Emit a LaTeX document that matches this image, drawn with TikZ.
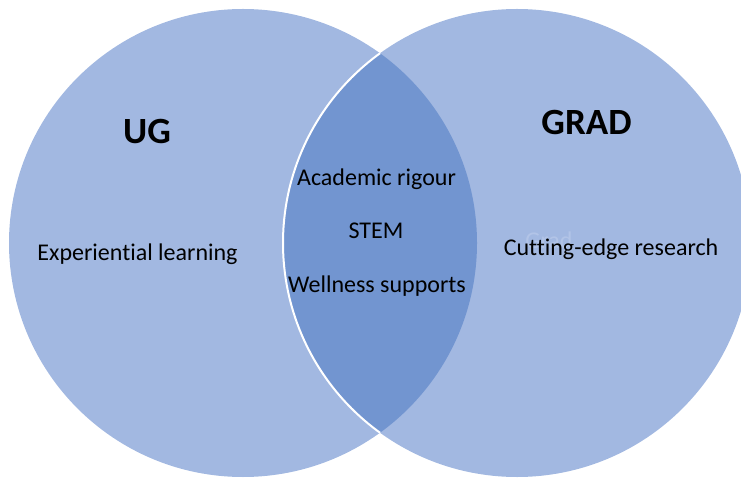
\documentclass[tikz,border=0pt]{standalone}
\usepackage{fontspec}
\setmainfont{Carlito}[Ligatures=NoCommon]
\definecolor{lightfill}{RGB}{162,184,225}
\definecolor{lensfill}{RGB}{114,149,208}
\definecolor{ghost}{RGB}{178,196,231}
\begin{document}
\begin{tikzpicture}[x=1pt,y=1pt,
  lbl/.style={font=\fontsize{24}{28}\selectfont, anchor=base, inner sep=0pt},
  ttl/.style={font=\fontsize{37}{44}\selectfont\bfseries, anchor=base, inner sep=0pt}]
\useasboundingbox (0,0) rectangle (741,477);
\clip (0,0) rectangle (741,477);
\coordinate (cl) at (243,234);
\coordinate (cr) at (517,234);
\fill[lightfill] (cl) circle (234);
\fill[lightfill] (cr) circle (234);
\begin{scope}
  \clip (cl) circle (234);
  \fill[lensfill] (cr) circle (234);
  \draw[white, line width=2pt] (cr) circle (234);
\end{scope}
\node[lbl, text=ghost] (ghost) at (549,228) {Grad};
\node[ttl] (ug) at (147,333) {UG};
\node[ttl] (grad) at (586.5,342) {GRAD};
\node[lbl] (exp) at (137.5,216) {Experiential learning};
\node[lbl] (acad) at (376.5,291) {Academic rigour};
\node[lbl] (stem) at (376,238) {STEM};
\node[lbl] (well) at (377,185) {Wellness supports};
\node[lbl] (cut) at (611,221) {Cutting-edge research};
\end{tikzpicture}
\end{document}
